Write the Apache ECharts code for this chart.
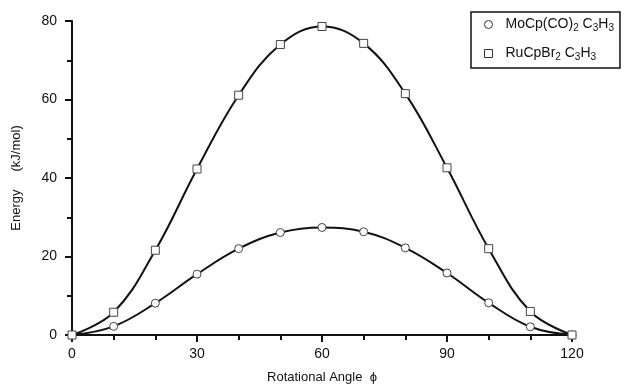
<!DOCTYPE html>
<html><head><meta charset="utf-8">
<script src="https://cdn.jsdelivr.net/npm/echarts@6/dist/echarts.min.js"></script>
<style>html,body{margin:0;padding:0;background:#fff}#c{width:638px;height:385px}</style>
</head><body><div id="c"></div>
<script>
var angles = [0, 10, 20, 30, 40, 50, 60, 70, 80, 90, 100, 110, 120];
var moEnergy = [0, 2.2, 8.1, 15.5, 22.0, 26.1, 27.4, 26.3, 22.2, 15.8, 8.2, 2.1, 0];
var ruEnergy = [0, 5.8, 21.6, 42.3, 61.1, 74.0, 78.6, 74.3, 61.5, 42.6, 22.0, 6.0, 0];
var xTickLabels = [0, 30, 60, 90, 120];
var yTickLabels = [0, 20, 40, 60, 80];
var seriesNames = ['MoCp(CO)2 C3H3', 'RuCpBr2 C3H3'];
var legendRich = ['MoCp(CO){s|2} C{s|3}H{s|3}', 'RuCpBr{s|2} C{s|3}H{s|3}'];

var font = 'Liberation Sans, Arial, Helvetica, sans-serif';
var chart = echarts.init(document.getElementById('c'), null, {renderer: 'canvas'});
function pairs(ys) { return angles.map(function (a, i) { return [a, ys[i]]; }); }
chart.setOption({
  animation: false,
  backgroundColor: '#fff',
  grid: {left: 72, right: 66, top: 21, bottom: 50, containLabel: false, outerBoundsMode: 'none'},
  xAxis: {
    type: 'value', min: 0, max: 120, interval: 30,
    axisLine: {onZero: false, lineStyle: {color: '#111', width: 2}},
    axisTick: {show: true, length: 7, inside: false, lineStyle: {color: '#111', width: 2}},
    minorTick: {show: true, splitNumber: 3, length: 5, lineStyle: {color: '#111', width: 2}},
    axisLabel: {color: '#111', fontFamily: font, fontSize: 14, margin: 12},
    splitLine: {show: false},
    name: 'Rotational Angle  \u03d5', nameLocation: 'middle', nameGap: 36,
    nameTextStyle: {color: '#111', fontFamily: font, fontSize: 13}
  },
  yAxis: {
    type: 'value', min: 0, max: 80, interval: 20,
    axisLine: {onZero: false, lineStyle: {color: '#111', width: 2}},
    axisTick: {show: true, length: 7, lineStyle: {color: '#111', width: 2}},
    minorTick: {show: true, splitNumber: 2, length: 5, lineStyle: {color: '#111', width: 2}},
    axisLabel: {color: '#111', fontFamily: font, fontSize: 14, margin: 15},
    splitLine: {show: false},
    name: 'Energy     (kJ/mol)', nameLocation: 'middle', nameGap: 49,
    nameTextStyle: {color: '#111', fontFamily: font, fontSize: 13}
  },
  legend: {
    orient: 'vertical', left: 471, top: 12,
    padding: [4, 6, 6, 13], itemGap: 12, itemWidth: 8, itemHeight: 8,
    borderColor: '#111', borderWidth: 1.5, backgroundColor: '#fff',
    data: [{name: seriesNames[0], icon: 'circle'}, {name: seriesNames[1], icon: 'rect'}],
    itemStyle: {color: '#fff', borderColor: '#333', borderWidth: 1},
    formatter: function (n) { return legendRich[seriesNames.indexOf(n)]; },
    textStyle: {color: '#111', fontFamily: font, fontSize: 14, lineHeight: 17, padding: [0, 0, 0, 8],
      rich: {s: {fontSize: 10, fontFamily: font, color: '#111', verticalAlign: 'bottom', lineHeight: 17}}}
  },
  series: [{
    name: seriesNames[0], type: 'line', data: pairs(moEnergy), smooth: 0.4,
    symbol: 'circle', symbolSize: 8,
    lineStyle: {color: '#111', width: 2},
    itemStyle: {color: '#fff', borderColor: '#444', borderWidth: 1}, z: 3
  }, {
    name: seriesNames[1], type: 'line', data: pairs(ruEnergy), smooth: 0.4,
    symbol: 'rect', symbolSize: 8,
    lineStyle: {color: '#111', width: 2},
    itemStyle: {color: '#fff', borderColor: '#444', borderWidth: 1}, z: 3
  }]
});
</script></body></html>
